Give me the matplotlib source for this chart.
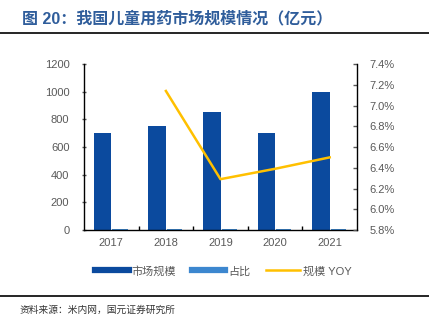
import numpy as np
import matplotlib.pyplot as plt
from matplotlib.lines import Line2D

plt.rcParams['font.family'] = ['Liberation Sans', 'Noto Sans CJK SC']

years = ['2017', '2018', '2019', '2020', '2021']
market = [700, 755, 855, 700, 1000]
share = [4, 4, 4, 4, 4]
yoy_years = ['2018', '2019', '2020', '2021']
yoy = [7.14, 6.29, 6.39, 6.50]

dark_blue = '#0B4A9E'
light_blue = '#3C87CF'
gold = '#FFC000'
grey = '#595959'


def main():
    fig = plt.figure(figsize=(4.29, 3.24), dpi=100)
    ax1 = fig.add_axes([84 / 429, 1 - 230 / 324, (357 - 84) / 429, (230 - 64) / 324])

    x = np.arange(len(years))
    w = 0.32
    ax1.bar(x - 0.16, market, width=w, color=dark_blue, label='市场规模')
    ax1.bar(x + 0.16, share, width=0.28, color=light_blue, label='占比')
    ax1.set_ylim(0, 1200)
    ax1.set_yticks(range(0, 1201, 200))
    ax1.set_xlim(-0.5, len(years) - 0.5)
    ax1.set_xticks(x)
    ax1.set_xticklabels(years)
    ax1.set_xticks(np.arange(len(years) - 1) + 0.5, minor=True)
    ax1.tick_params(axis='x', which='major', length=0, colors=grey, labelsize=8, pad=6)
    ax1.tick_params(axis='x', which='minor', length=3, direction='in', width=1)
    ax1.tick_params(axis='y', colors=grey, labelsize=8, length=3, direction='inout', width=1, pad=9)
    for s in ['top', 'right']:
        ax1.spines[s].set_visible(False)
    ax1.spines['left'].set_linewidth(1)
    ax1.spines['bottom'].set_linewidth(1)

    ax2 = ax1.twinx()
    xi = [years.index(y) for y in yoy_years]
    ax2.plot(xi, yoy, color=gold, linewidth=1.8)
    ax2.set_ylim(5.8, 7.4)
    ax2.set_yticks(np.arange(5.8, 7.41, 0.2))
    ax2.set_yticklabels(['%.1f%%' % v for v in np.arange(5.8, 7.41, 0.2)])
    ax2.tick_params(axis='y', colors=grey, labelsize=8, length=3, direction='in', width=1, pad=9)
    for s in ['top', 'left', 'bottom']:
        ax2.spines[s].set_visible(False)
    ax2.spines['right'].set_linewidth(1)

    handles = [Line2D([0], [0], color=dark_blue, lw=4.5),
               Line2D([0], [0], color=light_blue, lw=4.5),
               Line2D([0], [0], color=gold, lw=1.8)]
    fig.legend(handles, ['市场规模', '占比', '规模 YOY'], loc='center',
               bbox_to_anchor=(0.521, 1 - 271 / 324), ncol=3, frameon=False,
               fontsize=8, labelcolor=grey, handlelength=3.0, columnspacing=1.4,
               handletextpad=0.3)

    fig.text(22 / 429, 1 - 19 / 324, '图 20：我国儿童用药市场规模情况（亿元）',
             fontsize=11.5, fontweight='bold', color='#2F5D9B', va='center')
    fig.add_artist(Line2D([0, 1], [1 - 33 / 324] * 2, color='black', lw=1.2))
    fig.add_artist(Line2D([0, 1], [1 - 296 / 324] * 2, color='black', lw=1.2))
    fig.text(20 / 429, 1 - 310 / 324, '资料来源：米内网，国元证券研究所',
             fontsize=7, color='#333333', va='center')

    fig.savefig('out.png', dpi=100)


if __name__ == '__main__':
    main()
